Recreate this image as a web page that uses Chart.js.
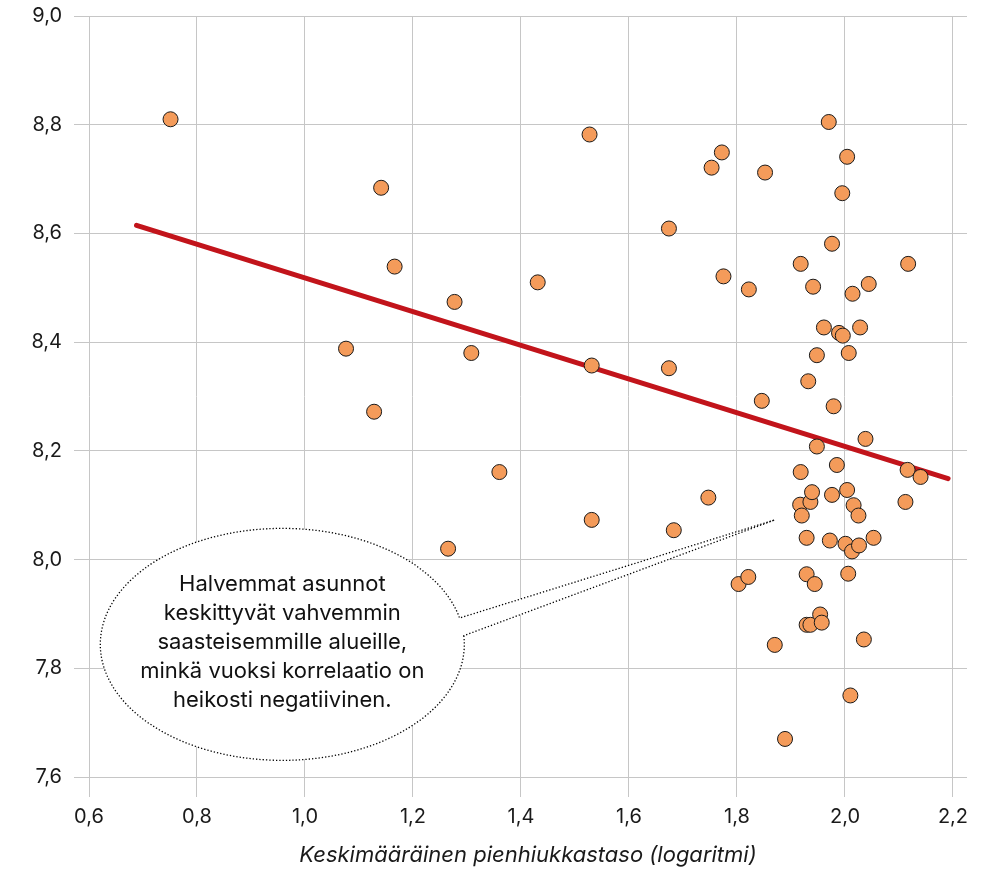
<!DOCTYPE html>
<html>
<head>
<meta charset="utf-8">
<script src="https://cdn.jsdelivr.net/npm/chart.js@4.4.1/dist/chart.umd.min.js"></script>
<style>
  html, body { margin: 0; padding: 0; background: #fff; }
  #wrap { width: 982px; height: 872px; position: relative; }
</style>
</head>
<body>
<div id="wrap"><canvas id="chart"></canvas></div>
<script>
// pienhiukkastaso (log) vs. asuntojen hintataso (log), luettu kuvasta
const pmLevel = [
  0.751, 1.076, 1.128, 1.141, 1.166, 1.265, 1.277, 1.308, 1.360, 1.431,
  1.527, 1.531, 1.531, 1.674, 1.674, 1.683, 1.747, 1.753, 1.772, 1.775,
  1.803, 1.821, 1.822, 1.846, 1.852, 1.870, 1.889, 1.917, 1.918, 1.918,
  1.920, 1.929, 1.929, 1.929, 1.932, 1.936, 1.936, 1.939, 1.941, 1.944,
  1.948, 1.948, 1.954, 1.957, 1.961, 1.970, 1.972, 1.976, 1.976, 1.979,
  1.985, 1.989, 1.995, 1.996, 2.001, 2.004, 2.004, 2.006, 2.007, 2.010,
  2.013, 2.014, 2.016, 2.025, 2.026, 2.028, 2.035, 2.038, 2.044, 2.053,
  2.112, 2.116, 2.117, 2.140
];
const priceLevel = [
  8.810, 8.388, 8.272, 8.684, 8.539, 8.020, 8.474, 8.380, 8.161, 8.510,
  8.782, 8.357, 8.073, 8.609, 8.352, 8.054, 8.114, 8.721, 8.749, 8.521,
  7.955, 7.968, 8.497, 8.292, 8.712, 7.843, 7.670, 8.101, 8.161, 8.544,
  8.081, 8.040, 7.973, 7.880, 8.328, 8.106, 7.880, 8.124, 8.502, 7.955,
  8.376, 8.208, 7.899, 7.884, 8.427, 8.805, 8.035, 8.581, 8.119, 8.282,
  8.174, 8.417, 8.674, 8.412, 8.029, 8.741, 8.128, 7.974, 8.380, 7.750,
  8.015, 8.489, 8.100, 8.081, 8.026, 8.427, 7.853, 8.222, 8.507, 8.040,
  8.106, 8.165, 8.544, 8.152
];
// regressiosuoran päätepisteet
const fitX = [0.688, 2.191];
const fitY = [8.615, 8.149];

const xTicks = [0.6, 0.8, 1.0, 1.2, 1.4, 1.6, 1.8, 2.0, 2.2];
const yTicks = [7.6, 7.8, 8.0, 8.2, 8.4, 8.6, 8.8, 9.0];

const xTitle = 'Keskimääräinen pienhiukkastaso (logaritmi)';
const noteLines = [
  'Halvemmat asunnot',
  'keskittyvät vahvemmin',
  'saasteisemmille alueille,',
  'minkä vuoksi korrelaatio on',
  'heikosti negatiivinen.'
];
const noteCenter = [0.958, 7.844];
const noteTip = [1.870, 8.073];

const comma = v => Number(v).toFixed(1).replace('.', ',');

const bubble = {
  id: 'bubble',
  beforeDatasetsDraw(chart) {
    const { ctx, scales: { x, y } } = chart;
    const cx = x.getPixelForValue(noteCenter[0]);
    const cy = y.getPixelForValue(noteCenter[1]);
    const tx = x.getPixelForValue(noteTip[0]);
    const ty = y.getPixelForValue(noteTip[1]);
    const rx = 182, ry = 116;
    ctx.save();
    ctx.beginPath();
    ctx.ellipse(cx, cy, rx, ry, 0, -0.075, Math.PI * 2 - 0.229);
    ctx.lineTo(tx, ty);
    ctx.closePath();
    ctx.fillStyle = '#fff';
    ctx.fill();
    ctx.setLineDash([1.3, 2]);
    ctx.lineWidth = 1.3;
    ctx.strokeStyle = '#000';
    ctx.stroke();
    ctx.setLineDash([]);
    ctx.fillStyle = '#111';
    ctx.font = '22px Inter';
    ctx.textAlign = 'center';
    ctx.textBaseline = 'middle';
    noteLines.forEach((t, i) => ctx.fillText(t, cx, cy - 60 + i * 29));
    ctx.restore();
  }
};

Chart.defaults.font.family = 'Inter';
Chart.defaults.color = '#1a1a1a';

new Chart(document.getElementById('chart'), {
  type: 'scatter',
  data: {
    datasets: [
      {
        label: 'Alueet',
        data: pmLevel.map((v, i) => ({ x: v, y: priceLevel[i] })),
        backgroundColor: '#f49b5a',
        borderColor: '#1a1a1a',
        borderWidth: 1,
        pointRadius: 7.5,
        pointHoverRadius: 7.5
      },
      {
        type: 'line',
        label: 'Trendi',
        data: fitX.map((v, i) => ({ x: v, y: fitY[i] })),
        borderColor: '#c2141b',
        borderWidth: 5,
        borderCapStyle: 'round',
        pointRadius: 0,
        fill: false
      }
    ]
  },
  options: {
    responsive: true,
    maintainAspectRatio: false,
    animation: false,
    layout: { padding: { top: 16, right: 15, bottom: 0, left: 0 } },
    plugins: {
      legend: { display: false },
      tooltip: { enabled: false }
    },
    scales: {
      x: {
        type: 'linear',
        min: 0.6,
        max: 2.226,
        afterBuildTicks: s => { s.ticks = xTicks.map(v => ({ value: v })); },
        afterFit: s => { s.height = 95; s.paddingLeft = 0; s.paddingRight = 0; },
        border: { display: false },
        grid: { color: '#c6c6c6', lineWidth: 1, tickLength: 20 },
        ticks: { padding: 8, font: { size: 20 }, callback: comma, maxRotation: 0 },
        title: {
          display: true,
          text: xTitle,
          font: { size: 22, style: 'italic' },
          padding: { top: 0, bottom: 3 }
        }
      },
      y: {
        type: 'linear',
        min: 7.6,
        max: 9.0,
        afterBuildTicks: s => { s.ticks = yTicks.map(v => ({ value: v })); },
        afterFit: s => { s.width = 89; s.paddingTop = 0; s.paddingBottom = 0; },
        border: { display: false },
        grid: { color: '#c6c6c6', lineWidth: 1, tickLength: 15 },
        ticks: { padding: 12, font: { size: 20 }, callback: comma }
      }
    }
  },
  plugins: [bubble]
});
</script>
</body>
</html>
